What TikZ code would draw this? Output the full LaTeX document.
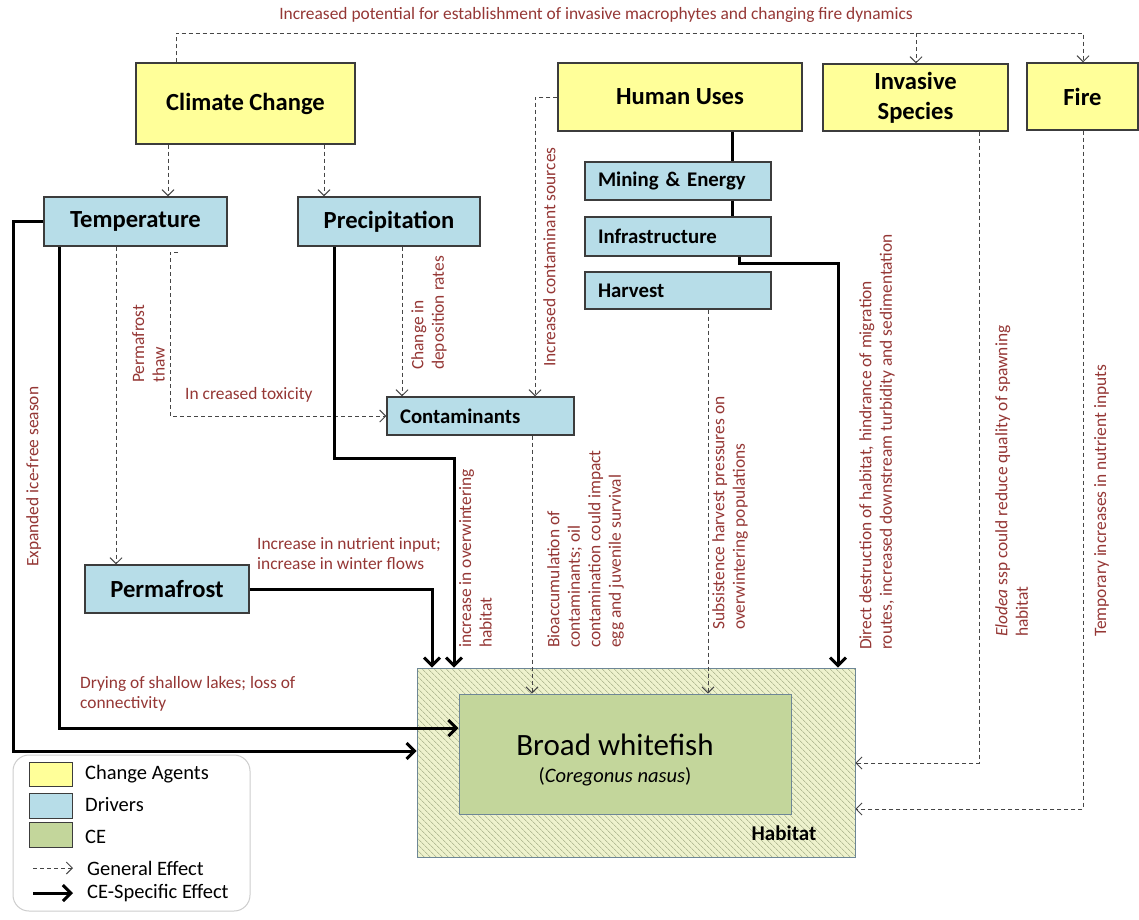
\documentclass[tikz,border=0pt]{standalone}
\usepackage{fontspec}
\setmainfont{Carlito}
\usetikzlibrary{arrows.meta,patterns.meta}
\definecolor{agentfill}{RGB}{255,255,153}
\definecolor{driverfill}{RGB}{183,221,232}
\definecolor{cefill}{RGB}{195,214,155}
\definecolor{habfill}{RGB}{238,242,205}
\definecolor{hatch}{RGB}{150,160,120}
\definecolor{bordercol}{RGB}{60,60,60}
\definecolor{habborder}{RGB}{110,135,150}
\definecolor{lab}{RGB}{149,55,53}
\definecolor{gencol}{RGB}{70,70,70}
\definecolor{legborder}{RGB}{205,205,205}
\begin{document}
\begin{tikzpicture}[x=1pt,y=-1pt,
  agent/.style={draw=bordercol,line width=1.2pt,fill=agentfill,inner sep=0pt,align=center,
    font=\fontsize{24.6}{30}\selectfont\bfseries},
  driver/.style={draw=bordercol,line width=1.2pt,fill=driverfill,inner sep=0pt,align=center,
    font=\fontsize{24.6}{28}\selectfont\bfseries},
  subdriver/.style={draw=bordercol,line width=1.2pt,fill=driverfill,inner ysep=0pt,inner xsep=13pt,
    align=left,font=\fontsize{20.8}{24}\selectfont\bfseries},
  lbl/.style={text=lab,inner sep=0pt,font=\fontsize{17.4}{20.5}\selectfont},
  vlbl/.style={lbl,rotate=90,anchor=north west,align=left},
  gen/.style={draw=gencol,line width=1pt,dash pattern=on 4pt off 3pt,
    -{Straight Barb[length=6pt,width=12pt]}},
  genline/.style={draw=gencol,line width=1pt,dash pattern=on 4pt off 3pt},
  cespec/.style={draw=black,line width=3pt,-{Straight Barb[length=8pt,width=16pt]}},
  celine/.style={draw=black,line width=3pt},
  legtext/.style={inner sep=0pt,anchor=west,font=\fontsize{20.5}{24}\selectfont},
  swatch/.style={draw=bordercol,line width=1pt,minimum width=43pt,inner sep=0pt}
]
\useasboundingbox[fill=white] (0,0) rectangle (1139,919);

% ---------- change agents ----------
\node[agent,minimum width=219pt,minimum height=81pt] (cc) at (245.5,103.5) {Climate Change};
\node[agent,minimum width=244pt,minimum height=68pt] (hu) at (680,97) {Human Uses};
\node[agent,minimum width=185pt,minimum height=67pt] (inv) at (915.5,97.5) {Invasive\\Species};
\node[agent,minimum width=111pt,minimum height=67pt] (fire) at (1082.5,96.5) {Fire};

% ---------- drivers ----------
\node[driver,minimum width=183pt,minimum height=49pt] (temp) at (135.5,221.5) {Temperature};
\node[driver,minimum width=182pt,minimum height=49pt] (prec) at (389,221.5) {Precipitation};
\node[driver,minimum width=164pt,minimum height=48pt] (perm) at (167,589) {Permafrost};
\node[subdriver,text width=160pt,minimum height=38pt] (mine) at (678,181) {Mining \& Energy};
\node[subdriver,text width=160pt,minimum height=39pt] (infra) at (678,236.5) {Infrastructure};
\node[subdriver,text width=160pt,minimum height=37pt] (harv) at (678,290.5) {Harvest};
\node[subdriver,text width=161pt,minimum height=38pt] (cont) at (480.5,416) {Contaminants};

% ---------- habitat and CE ----------
\node[draw=habborder,line width=1pt,preaction={fill=habfill},
  pattern={Lines[angle=-45,distance=4pt,line width=0.6pt]},pattern color=hatch,
  minimum width=438pt,minimum height=189pt,inner sep=0pt] (hab) at (636,762.5) {};
\node[draw=habborder,line width=1pt,fill=cefill,minimum width=332pt,minimum height=120pt,inner sep=0pt]
  (fish) at (625,754) {};
\node[inner sep=0pt,align=center,font=\fontsize{31}{32}\selectfont] (fishname) at (615,745) {Broad whitefish};
\node[inner sep=0pt,font=\fontsize{20.5}{24}\selectfont] (fishlatin) at (615,777) {(\textit{Coregonus nasus})};
\node[inner sep=0pt,font=\fontsize{21}{24}\selectfont\bfseries] (habtxt) at (784,833) {Habitat};

% ---------- helper coordinates ----------
\coordinate (t1) at (176,33);
\coordinate (t2) at (1083,33);
\coordinate (t3) at (916,33);
\coordinate (b1) at (168,0);
\coordinate (b2) at (324,0);
\coordinate (b3) at (116,0);
\coordinate (b4) at (402,0);
\coordinate (b5) at (532,0);
\coordinate (b6) at (708,0);
\coordinate (b7) at (732,0);
\coordinate (tx0) at (178,252);
\coordinate (tx1) at (170,252);
\coordinate (tx2) at (170,416);
\coordinate (h1) at (535,97);
\coordinate (i1) at (979,763);
\coordinate (f1) at (1083,809);
\coordinate (n1) at (739,263);
\coordinate (n2) at (838,263);
\coordinate (p1) at (334,458);
\coordinate (p2) at (454,458);
\coordinate (q1) at (432,589);
\coordinate (r1) at (59,728);
\coordinate (s1) at (13,221.5);
\coordinate (s2) at (13,751);

% ---------- general effects (dashed) ----------
\draw[gen] (cc.north -| t1) -- (t1) -- (t2) -- (fire.north -| t2);
\draw[gen] (t3) -- (inv.north -| t3);
\draw[gen] (cc.south -| b1) -- (temp.north -| b1);
\draw[gen] (cc.south -| b2) -- (prec.north -| b2);
\draw[gen] (temp.south -| b3) -- (perm.north -| b3);
\draw[gen] (tx0) -- (tx1) -- (tx2) -- (cont.west |- tx2);
\draw[gen] (prec.south -| b4) -- (cont.north -| b4);
\draw[gen] (hu.west |- h1) -- (h1) -- (cont.north -| h1);
\draw[gen] (cont.south -| b5) -- (fish.north -| b5);
\draw[gen] (harv.south -| b6) -- (fish.north -| b6);
\draw[gen] (inv.south -| i1) -- (i1) -- (hab.east |- i1);
\draw[gen] (fire.south -| f1) -- (f1) -- (hab.east |- f1);

% ---------- CE-specific effects (thick) ----------
\draw[celine] (hu.south -| b7) -- (mine.north -| b7);
\draw[celine] (mine.south -| b7) -- (infra.north -| b7);
\draw[cespec] (infra.south -| n1) -- (n1) -- (n2) -- (hab.north -| n2);
\draw[cespec] (prec.south -| p1) -- (p1) -- (p2) -- (hab.north -| p2);
\draw[cespec] (perm.east |- q1) -- (q1) -- (hab.north -| q1);
\draw[cespec] (temp.south -| r1) -- (r1) -- (fish.west |- r1);
\draw[cespec] (temp.west |- s1) -- (s1) -- (s2) -- (hab.west |- s2);

% ---------- labels ----------
\node[lbl] (ltop) at (596,15) {Increased potential for establishment of invasive macrophytes and changing fire dynamics};
\node[vlbl] (lexp) at (26,567) {Expanded ice-free season};
\node[vlbl] (lthaw) at (132,383) {Permafrost\\thaw};
\node[vlbl] (ldep) at (411,370) {Change in\\deposition rates};
\node[vlbl] (lsrc) at (543,367) {Increased contaminant sources};
\node[vlbl] (lwin) at (459,648) {increase in overwintering\\habitat};
\node[vlbl] (lbio) at (547,648) {Bioaccumulation of\\contaminants; oil\\contamination could impact\\egg and juvenile survival};
\node[vlbl] (lsub) at (712,630) {Subsistence harvest pressures on\\overwintering populations};
\node[vlbl] (ldir) at (859,650) {Direct destruction of habitat, hindrance of migration\\routes, increased downstream turbidity and sedimentation};
\node[vlbl] (lelo) at (995,637) {\textit{Elodea} ssp could reduce quality of spawning\\habitat};
\node[vlbl] (ltmp) at (1094,637) {Temporary increases in nutrient inputs};
\node[lbl,anchor=west] (ltox) at (185,395) {In creased toxicity};
\node[lbl,anchor=north west,align=left] (lnut) at (257,537) {Increase in nutrient input;\\increase in winter flows};
\node[lbl,anchor=north west,align=left] (ldry) at (80,676) {Drying of shallow lakes; loss of\\connectivity};

% ---------- legend ----------
\node[draw=legborder,line width=1pt,rounded corners=16pt,minimum width=237pt,minimum height=156pt,inner sep=0pt]
  (legend) at (131.5,833) {};
\node[swatch,fill=agentfill,minimum height=24pt] (sw1) at (50.5,774) {};
\node[swatch,fill=driverfill,minimum height=25pt] (sw2) at (50.5,805.5) {};
\node[swatch,fill=cefill,minimum height=25pt] (sw3) at (50.5,834.5) {};
\node[legtext] (lg1) at (85,774) {Change Agents};
\node[legtext] (lg2) at (85,805) {Drivers};
\node[legtext] (lg3) at (85,837) {CE};
\node[legtext] (lg4) at (87,868) {General Effect};
\node[legtext] (lg5) at (87,893) {CE-Specific Effect};
\coordinate (la0) at (33,868);
\coordinate (la1) at (73,868);
\coordinate (lb0) at (33,893);
\coordinate (lb1) at (73,893);
\draw[gen] (la0) -- (la1);
\draw[cespec] (lb0) -- (lb1);
\end{tikzpicture}
\end{document}
